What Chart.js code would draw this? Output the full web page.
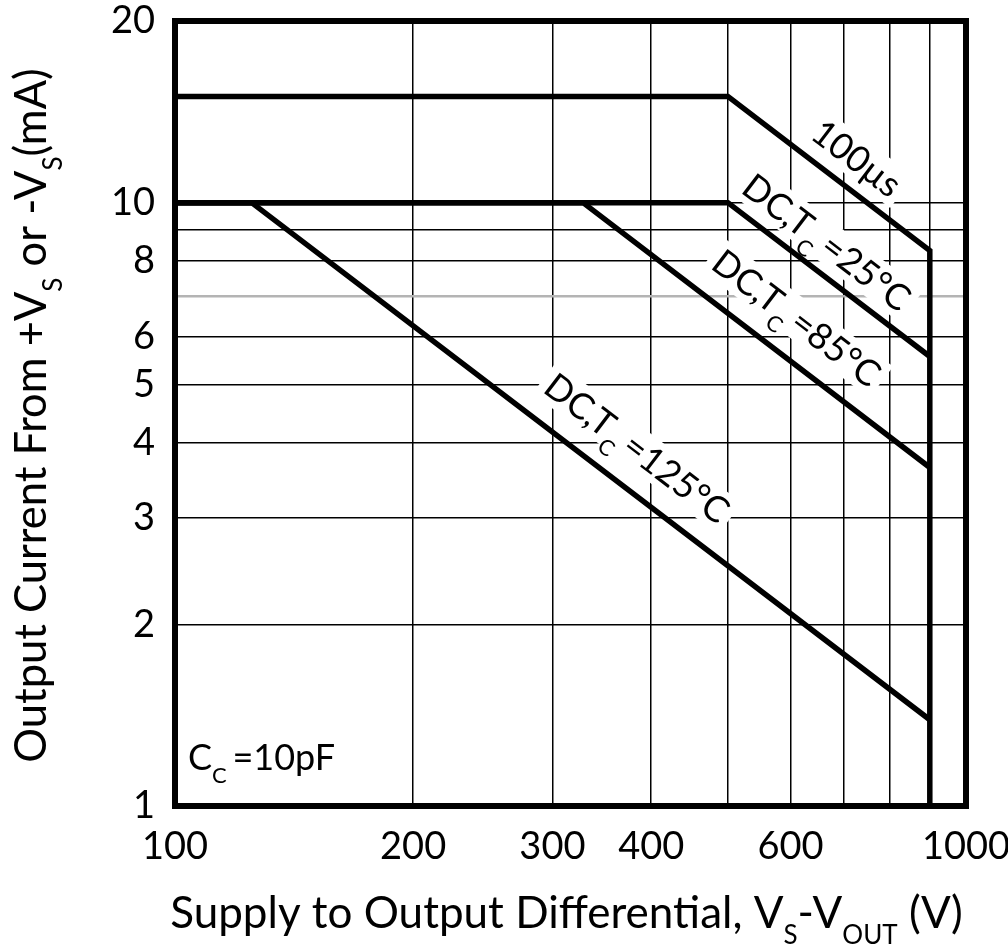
<!DOCTYPE html>
<html>
<head>
<meta charset="utf-8">
<script src="https://cdn.jsdelivr.net/npm/chart.js@4.4.1/dist/chart.umd.min.js"></script>
<style>
    html, body { margin: 0; padding: 0; background: #fff; }
    #chart-canvas { display: block; }
</style>
</head>
<body>
<canvas id="chart-canvas" width="1008" height="951"></canvas>
<script>
const FONT = 'Lato, "Open Sans", sans-serif';

const xGridValues = [100, 200, 300, 400, 500, 600, 700, 800, 900, 1000];
const xTickLabels = [100, 200, 300, 400, 600, 1000];
const yGridValues = [1, 2, 3, 4, 5, 6, 7, 8, 9, 10, 20];
const yTickLabels = [1, 2, 3, 4, 5, 6, 8, 10, 20];

// differential voltage (V) / output current (mA) along each limit curve
const pulse100usV = [100, 500, 900, 900];
const pulse100usI = [15, 15, 8.33, 1];
const dc25V = [100, 500, 900];
const dc25I = [10, 10, 5.56];
const dc85V = [100, 328, 900];
const dc85I = [10, 10, 3.64];
const dc125V = [100, 125, 900];
const dc125I = [10, 10, 1.39];

// text parts: [text, isSubscript]
const curveLabels = [
    { v: 728, i: 11.86, parts: [['100µs', false]] },
    { v: 667, i: 8.6, parts: [['DC,T', false], ['C ', true], ['=25°C', false]] },
    { v: 611, i: 6.44, parts: [['DC,T', false], ['C ', true], ['=85°C', false]] },
    { v: 384, i: 3.92, parts: [['DC,T', false], ['C ', true], ['=125°C', false]] }
];
const capLabel = [['C', false], ['C ', true], ['=10pF', false]];
const xTitle = [['Supply to Output Differential, V', false], ['S', true], ['-V', false], ['OUT', true], [' (V)', false]];
const yTitle = [['Output Current From +V', false], ['S', true], [' or -V', false], ['S', true], ['(mA)', false]];

const LABEL_SIZE = 36;
const X_TITLE_SIZE = 44;
const Y_TITLE_SIZE = 43.5;

function partFont(sub, size) {
    return (sub ? Math.round(size * 0.6) : size) + 'px ' + FONT;
}

function measureRich(ctx, parts, size) {
    let w = 0;
    parts.forEach(p => {
        ctx.font = partFont(p[1], size);
        w += ctx.measureText(p[0]).width;
    });
    return w;
}

// left-aligned from x, main baseline at y
function drawRich(ctx, parts, x, y, size) {
    ctx.textAlign = 'left';
    ctx.textBaseline = 'alphabetic';
    parts.forEach(p => {
        ctx.font = partFont(p[1], size);
        ctx.fillText(p[0], x, p[1] ? y + size * 0.36 : y);
        x += ctx.measureText(p[0]).width;
    });
}

function toPoints(vs, is) {
    return vs.map((v, k) => ({ x: v, y: is[k] }));
}

const annotations = {
    id: 'annotations',
    beforeDatasetsDraw(chart) {
        const ctx = chart.ctx;
        const xs = chart.scales.x;
        const ys = chart.scales.y;

        // labels follow the slope of the constant-power segments
        const angle = Math.atan2(
            ys.getPixelForValue(dc25I[2]) - ys.getPixelForValue(dc25I[1]),
            xs.getPixelForValue(dc25V[2]) - xs.getPixelForValue(dc25V[1])
        );

        curveLabels.forEach(l => {
            ctx.save();
            ctx.translate(xs.getPixelForValue(l.v), ys.getPixelForValue(l.i));
            ctx.rotate(angle);
            const w = measureRich(ctx, l.parts, LABEL_SIZE);
            ctx.fillStyle = '#fff';
            ctx.fillRect(-w / 2 - 6, -LABEL_SIZE * 0.55, w + 12, LABEL_SIZE * 1.1);
            ctx.fillStyle = '#000';
            drawRich(ctx, l.parts, -w / 2, LABEL_SIZE * 0.36, LABEL_SIZE);
            ctx.restore();
        });

        const area = chart.chartArea;
        ctx.save();
        ctx.fillStyle = '#000';
        drawRich(ctx, capLabel, area.left + 13, area.bottom - 36, LABEL_SIZE);
        ctx.restore();
    },
    afterDatasetsDraw(chart) {
        const ctx = chart.ctx;
        const area = chart.chartArea;
        ctx.save();
        ctx.strokeStyle = '#000';
        ctx.lineWidth = 6;
        ctx.strokeRect(area.left, area.top, area.right - area.left, area.bottom - area.top);
        ctx.restore();
    },
    afterDraw(chart) {
        const ctx = chart.ctx;
        const area = chart.chartArea;
        ctx.save();
        ctx.fillStyle = '#000';

        const xw = measureRich(ctx, xTitle, X_TITLE_SIZE);
        drawRich(ctx, xTitle, (area.left + area.right) / 2 - 4 - xw / 2, 928, X_TITLE_SIZE);

        const yw = measureRich(ctx, yTitle, Y_TITLE_SIZE);
        ctx.translate(46, (area.top + area.bottom) / 2 - 2);
        ctx.rotate(-Math.PI / 2);
        drawRich(ctx, yTitle, -yw / 2 - 4, 0, Y_TITLE_SIZE);
        ctx.restore();
    }
};

function lineSet(vs, is) {
    return {
        data: toPoints(vs, is),
        borderColor: '#000',
        borderWidth: 5.5,
        pointRadius: 0,
        tension: 0,
        fill: false
    };
}

const ctx = document.getElementById('chart-canvas').getContext('2d');

new Chart(ctx, {
    type: 'line',
    data: {
        datasets: [
            lineSet(pulse100usV, pulse100usI),
            lineSet(dc25V, dc25I),
            lineSet(dc85V, dc85I),
            lineSet(dc125V, dc125I)
        ]
    },
    options: {
        responsive: false,
        animation: false,
        devicePixelRatio: 1,
        layout: { padding: { top: 21, right: 42, left: 0, bottom: 0 } },
        plugins: {
            legend: { display: false },
            tooltip: { enabled: false }
        },
        scales: {
            x: {
                type: 'logarithmic',
                min: 100,
                max: 1000,
                afterFit: s => {
                    s.height = 145;
                    s.paddingLeft = 0;
                    s.paddingRight = 0;
                },
                afterBuildTicks: s => { s.ticks = xGridValues.map(v => ({ value: v })); },
                ticks: {
                    autoSkip: false,
                    maxRotation: 0,
                    padding: 18,
                    color: '#000',
                    font: { family: FONT, size: 38 },
                    callback: v => xTickLabels.includes(v) ? String(v) : ''
                },
                grid: { color: '#000', lineWidth: 1.5, drawTicks: false },
                border: { display: false }
            },
            y: {
                type: 'logarithmic',
                min: 1,
                max: 20,
                afterFit: s => {
                    s.width = 175;
                    s.paddingTop = 0;
                    s.paddingBottom = 0;
                },
                afterBuildTicks: s => { s.ticks = yGridValues.map(v => ({ value: v })); },
                ticks: {
                    autoSkip: false,
                    padding: 20,
                    color: '#000',
                    font: { family: FONT, size: 38 },
                    callback: v => yTickLabels.includes(v) ? String(v) : ''
                },
                grid: {
                    color: c => (c.tick && c.tick.value === 7) ? '#b4b4b4' : '#000',
                    lineWidth: c => (c.tick && c.tick.value === 7) ? 2.5 : 1.5,
                    drawTicks: false
                },
                border: { display: false }
            }
        }
    },
    plugins: [annotations]
});
</script>
</body>
</html>
